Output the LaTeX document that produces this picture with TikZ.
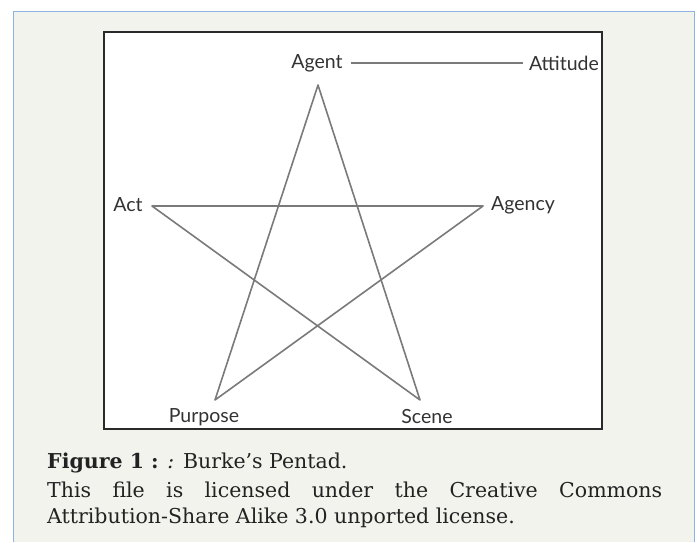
\documentclass[tikz,border=0pt]{standalone}
\usepackage{fontspec}
\setmainfont{DejaVu Serif}
\newfontfamily\labelfont{Lato}
\definecolor{panelbg}{HTML}{F3F3EE}
\definecolor{panelblue}{HTML}{8DB3E2}
\definecolor{boxdark}{HTML}{2A2A2A}
\definecolor{stargrey}{HTML}{7A7A7A}
\definecolor{labelgrey}{HTML}{333333}
\definecolor{captiongrey}{HTML}{222222}
\begin{document}
\begin{tikzpicture}[x=1pt,y=-1pt,
  starline/.style={draw=stargrey,line width=1.6pt,line join=round},
  lbl/.style={font=\labelfont\fontsize{19.5}{22}\selectfont,text=labelgrey,inner sep=0pt},
  captxt/.style={font=\fontsize{20.5}{24}\selectfont,text=captiongrey,inner sep=0pt,anchor=base west}]
\useasboundingbox (0,0) rectangle (697,542);
\fill[white] (0,0) rectangle (697,542);
\fill[panelbg] (13,11) rectangle (694,542);
\draw[panelblue,line width=1pt] (13,542) -- (13,11) -- (694,11) -- (694,542);
\draw[fill=white,draw=boxdark,line width=1.8pt] (104,32) rectangle (602,429);
% star vertices
\coordinate (vA) at (318,85);
\coordinate (vC) at (152,206);
\coordinate (vG) at (483,206);
\coordinate (vP) at (215,400);
\coordinate (vS) at (420,400);
\draw[starline] (vA) -- (vP) -- (vG) -- (vC) -- (vS) -- cycle;
% labels
\node[lbl] (agent) at (317,63) {Agent};
\node[lbl] (attitude) at (564,63) {Attitude};
\node[lbl] (act) at (128,205) {Act};
\node[lbl] (agency) at (523,205) {Agency};
\node[lbl] (purpose) at (204,417) {Purpose};
\node[lbl] (scene) at (427,417) {Scene};
\draw[starline,shorten <=8pt,shorten >=6pt] (agent) -- (attitude);
% caption
\node[captxt] (cap1) at (47,468) {\textbf{Figure 1 :} \textit{:} Burke’s Pentad.};
\node[captxt] (cap2) at (47,497) {\makebox[615pt][s]{This file is licensed under the Creative Commons}};
\node[captxt] (cap3) at (47,523) {Attribution-Share Alike 3.0 unported license.};
\end{tikzpicture}
\end{document}
